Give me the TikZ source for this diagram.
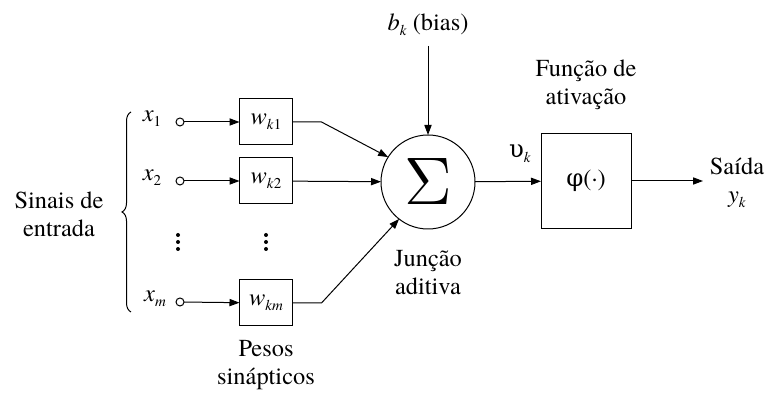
\documentclass[tikz,border=0pt]{standalone}
\usepackage{fontspec}
\setmainfont{texgyretermes}[Extension=.otf, UprightFont=*-regular, ItalicFont=*-italic, BoldFont=*-bold, BoldItalicFont=*-bolditalic]
\newfontfamily\greekfam{DejaVu Serif}
\usepackage{tikz}
\usetikzlibrary{positioning,arrows.meta,decorations.pathreplacing}
\newcommand{\lowsub}[1]{\raisebox{-0.45ex}{\fontsize{7.5}{7.5}\selectfont #1}}

\begin{document}
\begin{tikzpicture}[
    x=0.5pt, y=0.5pt,
    font=\fontsize{12.2}{14}\selectfont,
    every node/.style={inner sep=0pt, outer sep=0pt},
    label/.style={align=center},
    inport/.style={circle, draw, line width=0.5pt, minimum size=4pt},
    weight/.style={rectangle, draw, line width=0.5pt, minimum width=26.5pt, minimum height=23pt},
    summer/.style={circle, draw, line width=0.5pt, minimum size=47pt},
    actbox/.style={rectangle, draw, line width=0.5pt, minimum width=45pt, minimum height=47.5pt},
    arrow/.style={-{Triangle[length=5pt,width=3.6pt]}, line width=0.5pt},
    wire/.style={line width=0.5pt},
    dot/.style={circle, fill, minimum size=2pt},
]
\useasboundingbox (0,0) rectangle (774,394);

% Inputs
\node (in1) [inport] at (180,272) {};
\node (in2) [inport] at (180,213) {};
\node (inm) [inport] at (180,92) {};
\node (lx1) at (152,275) {\textit{x}\lowsub{1}};
\node (lx2) at (152,216) {\textit{x}\lowsub{2}};
\node (lxm) at (155,95) {\textit{x}\lowsub{\textit{m}}};

% Synaptic weights
\node (w1) [weight] at (266,272) {\textit{w}\lowsub{\textit{k}1}};
\node (w2) [weight] at (266,213) {\textit{w}\lowsub{\textit{k}2}};
\node (wm) [weight] at (266,91) {\textit{w}\lowsub{\textit{km}}};

% Vertical dots
\foreach \dy in {0,1,2} {
  \node (dx\dy) [dot] at (178,159-7*\dy) {};
  \node (dw\dy) [dot] at (266,159-7*\dy) {};
}

% Summing junction and activation
\node (sigma) [summer] at (428,212) {\resizebox{!}{23pt}{$\Sigma$}};
\node (phi) [actbox] at (586,213) {{\greekfam φ}(·)};
\coordinate (out) at (703,213);

% Labels
\node (bias) [label] at (428,369) {\textit{b}\lowsub{\textit{k}} (bias)};
\node (vk) [label] at (520,240) {{\greekfam υ}\lowsub{\textit{k}}};
\node (saida) [label] at (737,211) {Saída\\\textit{y}\lowsub{\textit{k}}};
\node (actlbl) [label, above=12pt of phi] {Função de\\ativação};
\node (sumlbl) [label] at (428,121) {Junção\\aditiva};
\node (wlbl) [label] at (266,29) {Pesos\\sinápticos};
\node (inlbl) [label] at (59,180) {Sinais de\\entrada};

% Brace
\coordinate (bbot) at (131,82);
\coordinate (btop) at (131,282);
\draw[wire, decorate, decoration={brace, amplitude=4.5pt}] (bbot) -- (btop);

% Arrows
\draw[arrow] (in1) -- (w1);
\draw[arrow] (in2) -- (w2);
\draw[arrow] (inm) -- (wm);
\draw[arrow] (w1.east) -- ++(29,0) -- (sigma.148);
\draw[arrow] (w2) -- (sigma);
\draw[arrow] (wm.east) -- ++(29,0) -- (sigma.232);
\draw[arrow, shorten <=5pt] (bias) -- (sigma);
\draw[arrow] (sigma) -- (phi);
\draw[arrow] (phi) -- (out);

\end{tikzpicture}
\end{document}
